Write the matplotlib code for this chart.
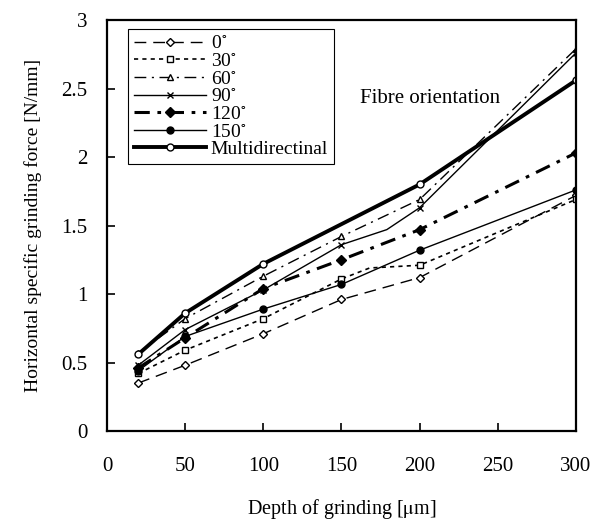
import numpy as np
import matplotlib.pyplot as plt

plt.rcParams['font.family'] = ['Liberation Serif', 'DejaVu Serif']
plt.rcParams['mathtext.fontset'] = 'stix'

# depth of grinding [um]
depth = [20, 50, 100, 150, 200, 300]
depth_multi = [20, 50, 100, 200, 300]
# 30 and 90 deg curves have an extra bend between 150 and 200
depth_30 = [20, 50, 100, 150, 168, 200, 300]
depth_90 = [20, 50, 100, 150, 179, 200, 300]

f_0 = [0.35, 0.48, 0.71, 0.96, 1.12, 1.72]
f_30 = [0.42, 0.59, 0.82, 1.11, 1.19, 1.21, 1.69]
f_60 = [0.57, 0.82, 1.13, 1.42, 1.69, 2.79]
f_90 = [0.48, 0.74, 1.03, 1.36, 1.47, 1.63, 2.76]
f_120 = [0.46, 0.68, 1.04, 1.25, 1.47, 2.03]
f_150 = [0.44, 0.69, 0.89, 1.07, 1.32, 1.76]
f_multi = [0.56, 0.86, 1.22, 1.80, 2.56]

labels = ['0$^{\\circ}$', '30$^{\\circ}$', '60$^{\\circ}$', '90$^{\\circ}$',
          '120$^{\\circ}$', '150$^{\\circ}$', 'Multidirectinal']
marks = [0, 1, 2, 3, 5, 6]

fig = plt.figure(figsize=(6.02, 5.28), dpi=100)
ax = fig.add_axes([0.1777, 0.1837, 0.9568 - 0.1777, 0.9621 - 0.1837])

k = dict(color='black', markersize=5, markeredgewidth=1.0)
ax.plot(depth, f_0, linestyle=(0, (8.5, 5)), lw=1.0, marker='D', mfc='white', markersize=4.5,
        color='black', markeredgewidth=1.0, label=labels[0])
ax.plot(depth_30, f_30, linestyle=(0, (2.5, 2.5)), lw=1.2, marker='s', mfc='white',
        markevery=marks, label=labels[1], **k)
ax.plot(depth, f_60, linestyle=(0, (8.5, 4, 1.5, 4)), lw=1.0, marker='^', mfc='white',
        label=labels[2], **k)
ax.plot(depth_90, f_90, linestyle='-', lw=1.0, marker='x', markevery=marks, label=labels[3], **k)
ax.plot(depth, f_120, linestyle=(0, (5, 2.5, 1.2, 2.5)), lw=2.2, marker='D', mfc='black',
        markersize=5, color='black', label=labels[4])
ax.plot(depth, f_150, linestyle='-', lw=1.0, marker='o', mfc='black', label=labels[5], **k)
ax.plot(depth_multi, f_multi, linestyle='-', lw=2.8, marker='o', mfc='white', markersize=5,
        color='black', markeredgewidth=1.0, label=labels[6])

ax.set_xlim(0, 300)
ax.set_ylim(0, 3)
ax.set_xticks(np.arange(0, 301, 50))
ax.set_yticks(np.arange(0, 3.01, 0.5))
ax.set_yticklabels(['0', '0.5', '1', '1.5', '2', '2.5', '3'])
ax.tick_params(axis='both', direction='in', length=6, width=1.2, labelsize=15)
ax.tick_params(axis='x', pad=19)
ax.tick_params(axis='y', pad=14)
for s in ax.spines.values():
    s.set_linewidth(1.6)

ax.set_xlabel('Depth of grinding [$\\mathrm{\\mu}$m]', fontsize=14.5, labelpad=15)
ax.set_ylabel('Horizontal specific grinding force [N/mm]', fontsize=14, labelpad=14)

ax.text(162, 2.43, 'Fibre orientation', fontsize=15, va='center', ha='left')

leg = ax.legend(loc='upper left', bbox_to_anchor=(0.045, 0.978), fontsize=14,
                handlelength=3.7, labelspacing=0.0, borderpad=0.3, handletextpad=0.25,
                fancybox=False, edgecolor='black', framealpha=1, borderaxespad=0)
leg.get_frame().set_linewidth(0.8)

fig.savefig('out.png', dpi=100)
